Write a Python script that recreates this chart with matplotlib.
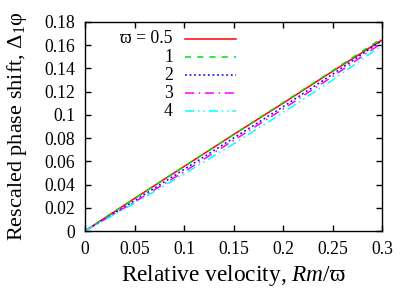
import numpy as np
import matplotlib
matplotlib.use('Agg')
import matplotlib.pyplot as plt

plt.rcParams['font.family'] = ['Liberation Serif', 'DejaVu Serif']
plt.rcParams['mathtext.fontset'] = 'custom'
plt.rcParams['mathtext.rm'] = 'Liberation Serif'
plt.rcParams['mathtext.it'] = 'Liberation Serif:italic'

# data
x = [0, 0.05, 0.1, 0.15, 0.2, 0.25, 0.3]
y_05 = [0, 0.028, 0.0555, 0.083, 0.110, 0.1375, 0.1645]
y_1 = [0, 0.028, 0.0555, 0.083, 0.1105, 0.138, 0.166]
y_2 = [0, 0.026, 0.053, 0.080, 0.107, 0.135, 0.164]
y_3 = [0, 0.025, 0.051, 0.078, 0.105, 0.133, 0.162]
y_4 = [0, 0.024, 0.049, 0.075, 0.102, 0.130, 0.160]
labels = ['\u03d6 = 0.5', '1', '2', '3', '4']
xticks = [0, 0.05, 0.1, 0.15, 0.2, 0.25, 0.3]
yticks = [0, 0.02, 0.04, 0.06, 0.08, 0.1, 0.12, 0.14, 0.16, 0.18]

fig = plt.figure(figsize=(4.15, 2.91), dpi=100)
ax = fig.add_axes([85/415, 1 - 231/291, 297/415, 209/291])

series = [y_05, y_1, y_2, y_3, y_4]
colors = ['#ff0000', '#00e000', '#0000ff', '#ff00ff', '#00ffff']
styles = ['-', (0, (4, 4)), (0, (1.2, 1.8)), (0, (6, 3, 1, 3)), (0, (6, 2.5, 1, 2.5, 1, 2.5))]
for ys, c, ls in zip(series, colors, styles):
    ax.plot(x, ys, color=c, linestyle=ls, linewidth=1.1)

# gnuplot-style key: right-aligned text, sample line to its right
for i, (lab, c, ls) in enumerate(zip(labels, colors, styles)):
    yk = 0.919 - i * 0.0865
    ax.text(0.296, yk, lab, transform=ax.transAxes, ha='right', va='center', fontsize=12.7)
    ax.plot([0.337, 0.508], [yk, yk], transform=ax.transAxes, color=c, linestyle=ls, linewidth=1.1)

ax.set_xlim(0, 0.3)
ax.set_ylim(0, 0.18)
ax.set_xticks(xticks)
ax.set_xticklabels(['0', '0.05', '0.1', '0.15', '0.2', '0.25', '0.3'])
ax.set_yticks(yticks)
ax.set_yticklabels(['0', '0.02', '0.04', '0.06', '0.08', '0.1', '0.12', '0.14', '0.16', '0.18'])
ax.tick_params(direction='in', top=True, right=True, length=4.3, width=1, labelsize=12.7, pad=7)
for s in ax.spines.values():
    s.set_linewidth(1)

ax.set_xlabel('Relative velocity, $Rm$/\u03d6', fontsize=16.8, labelpad=4)
ax.set_ylabel('Rescaled phase shift, $\\Delta_1$\u03c6', fontsize=16, labelpad=11)

fig.savefig('out.png', dpi=100)
